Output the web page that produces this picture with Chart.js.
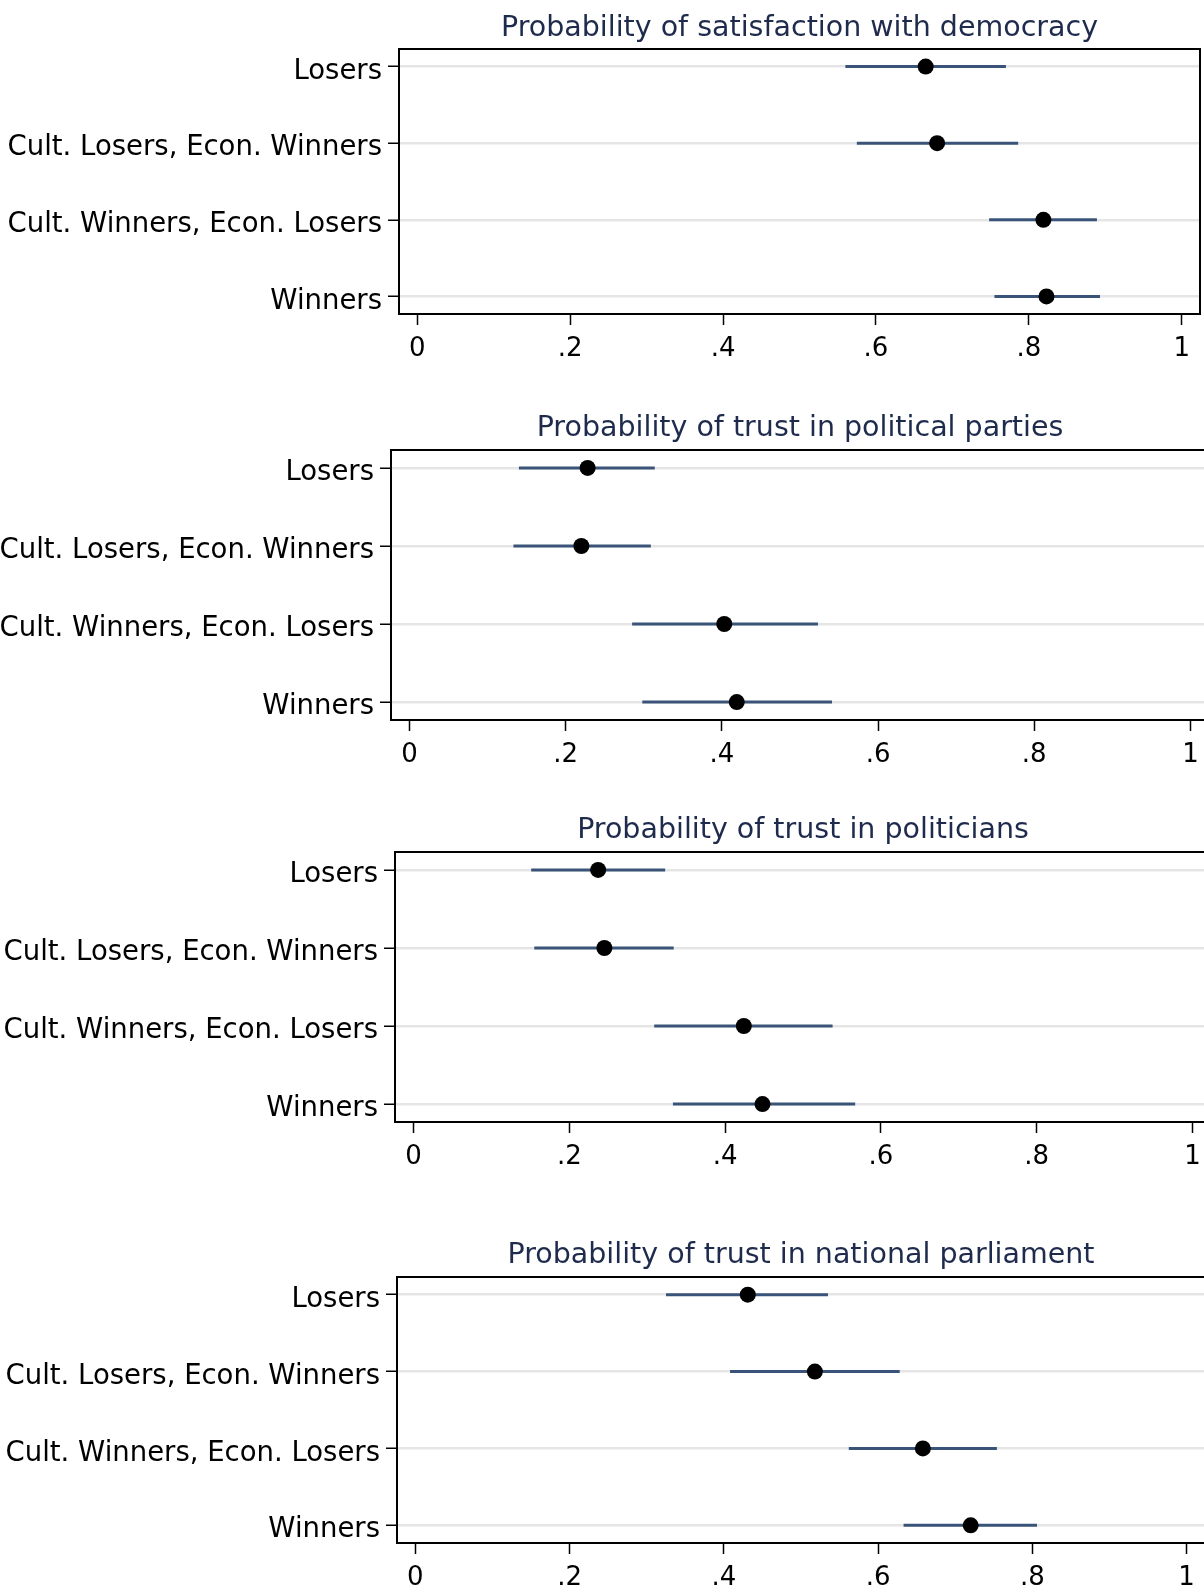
<!DOCTYPE html>
<html>
<head>
<meta charset="utf-8">
<title>Predicted probabilities by winner/loser group</title>
<script src="https://cdn.jsdelivr.net/npm/chart.js@4.4.1/dist/chart.umd.min.js"></script>
<style>
  html, body { margin: 0; padding: 0; background: #ffffff; }
  body { width: 1204px; height: 1589px; overflow: hidden; position: relative; }
  canvas { position: absolute; left: 0; }
</style>
</head>
<body>
<canvas id="panel0"></canvas>
<canvas id="panel1"></canvas>
<canvas id="panel2"></canvas>
<canvas id="panel3"></canvas>
<script>
// ---- data ----
const groups = ["Losers", "Cult. Losers, Econ. Winners", "Cult. Winners, Econ. Losers", "Winners"];
const xTickValues = [0, 0.2, 0.4, 0.6, 0.8, 1];
const xTickLabels = ["0", ".2", ".4", ".6", ".8", "1"];

const titles = [
  "Probability of satisfaction with democracy",
  "Probability of trust in political parties",
  "Probability of trust in politicians",
  "Probability of trust in national parliament"
];

// point estimates and 95% confidence bounds, one entry per group
const democracyEst = [0.665, 0.680, 0.819, 0.823];
const democracyLo  = [0.560, 0.575, 0.748, 0.755];
const democracyHi  = [0.770, 0.786, 0.889, 0.893];

const partiesEst = [0.228, 0.220, 0.403, 0.419];
const partiesLo  = [0.140, 0.133, 0.285, 0.298];
const partiesHi  = [0.314, 0.309, 0.523, 0.541];

const politiciansEst = [0.237, 0.245, 0.424, 0.448];
const politiciansLo  = [0.151, 0.155, 0.309, 0.333];
const politiciansHi  = [0.323, 0.334, 0.538, 0.567];

const parliamentEst = [0.431, 0.518, 0.658, 0.720];
const parliamentLo  = [0.325, 0.408, 0.562, 0.633];
const parliamentHi  = [0.535, 0.628, 0.754, 0.806];

const panelSeries = [
  { est: democracyEst,   lo: democracyLo,   hi: democracyHi },
  { est: partiesEst,     lo: partiesLo,     hi: partiesHi },
  { est: politiciansEst, lo: politiciansLo, hi: politiciansHi },
  { est: parliamentEst,  lo: parliamentLo,  hi: parliamentHi }
];

// ---- frame geometry (page pixels) ----
// top/height: canvas placement; left/right/boxTop/boxBottom: plot frame; titleY: title centre
const frames = [
  { top: 0,    height: 392, left: 399, right: 1200, boxTop: 49,   boxBottom: 314,  titleY: 29 },
  { top: 395,  height: 400, left: 391, right: 1209, boxTop: 450,  boxBottom: 720,  titleY: 429 },
  { top: 795,  height: 415, left: 395, right: 1211, boxTop: 852,  boxBottom: 1122, titleY: 831 },
  { top: 1212, height: 377, left: 397, right: 1205, boxTop: 1277, boxBottom: 1543, titleY: 1256 }
];

const canvasWidth = 1220;
const fontFamily = "'DejaVu Sans', 'Liberation Sans', sans-serif";
const titleSize = 28.5;
const titleLineHeight = 1.2;
const ciColor = "#3a5479";
const titleColor = "#1f2b4d";

// draws the closed plot frame around the chart area
const frameBox = {
  id: "frameBox",
  afterDraw(chart) {
    const a = chart.chartArea;
    const ctx = chart.ctx;
    ctx.save();
    ctx.strokeStyle = "#000000";
    ctx.lineWidth = 2;
    ctx.strokeRect(a.left, a.top, a.right - a.left, a.bottom - a.top);
    ctx.restore();
  }
};

function buildPanel(i) {
  const f = frames[i];
  const s = panelSeries[i];
  const canvas = document.getElementById("panel" + i);
  canvas.width = canvasWidth;
  canvas.height = f.height;
  canvas.style.top = f.top + "px";
  canvas.style.width = canvasWidth + "px";
  canvas.style.height = f.height + "px";

  // x range padded so the frame sits a little outside 0 and 1
  const unit = 777;
  const padX = 18.5 / unit;

  const halfTitle = titleSize * titleLineHeight / 2;
  const padTop = (f.titleY - f.top) - halfTitle;
  const titleGap = (f.boxTop - f.titleY) - halfTitle;
  const xAxisHeight = f.height - (f.boxBottom - f.top);

  const datasets = [];
  groups.forEach((g, k) => {
    datasets.push({
      type: "line",
      label: g + " CI",
      data: [{ x: s.lo[k], y: k + 1 }, { x: s.hi[k], y: k + 1 }],
      borderColor: ciColor,
      borderWidth: 3,
      borderCapStyle: "butt",
      pointRadius: 0,
      fill: false,
      order: 2
    });
  });
  datasets.push({
    type: "scatter",
    label: "Estimate",
    data: s.est.map((v, k) => ({ x: v, y: k + 1 })),
    backgroundColor: "#000000",
    borderWidth: 0,
    pointRadius: 8,
    order: 1
  });

  new Chart(canvas, {
    type: "scatter",
    data: { datasets },
    options: {
      responsive: false,
      maintainAspectRatio: false,
      devicePixelRatio: 1,
      animation: false,
      events: [],
      layout: { padding: { left: 0, right: canvasWidth - f.right, top: padTop, bottom: 0 } },
      plugins: {
        legend: { display: false },
        tooltip: { enabled: false },
        title: {
          display: true,
          text: titles[i],
          color: titleColor,
          fullSize: false,
          font: { family: fontFamily, size: titleSize, weight: "normal", lineHeight: titleLineHeight },
          padding: { top: 0, bottom: titleGap }
        }
      },
      scales: {
        x: {
          type: "linear",
          position: "bottom",
          min: -padX,
          max: 1 + padX,
          afterBuildTicks(scale) { scale.ticks = xTickValues.map(v => ({ value: v })); },
          afterFit(scale) { scale.height = xAxisHeight; },
          ticks: {
            color: "#000000",
            font: { family: fontFamily, size: 26 },
            padding: 9,
            maxRotation: 0,
            autoSkip: false,
            callback: (value, index) => xTickLabels[index]
          },
          grid: {
            drawOnChartArea: false,
            drawTicks: true,
            tickLength: 11,
            tickColor: "#000000",
            tickWidth: 1.5
          },
          border: { display: false }
        },
        y: {
          type: "linear",
          position: "left",
          reverse: true,
          min: 0.77,
          max: 4.23,
          afterBuildTicks(scale) { scale.ticks = groups.map((g, k) => ({ value: k + 1 })); },
          afterFit(scale) { scale.width = f.left; },
          ticks: {
            color: "#000000",
            font: { family: fontFamily, size: 27.5 },
            padding: 6,
            labelOffset: 5,
            autoSkip: false,
            callback: (value) => groups[Math.round(value) - 1]
          },
          grid: {
            color: "#e5e5e5",
            lineWidth: 2.5,
            drawTicks: true,
            tickLength: 11,
            tickColor: "#000000",
            tickWidth: 1.5
          },
          border: { display: false }
        }
      }
    },
    plugins: [frameBox]
  });
}

frames.forEach((f, i) => buildPanel(i));
</script>
</body>
</html>
